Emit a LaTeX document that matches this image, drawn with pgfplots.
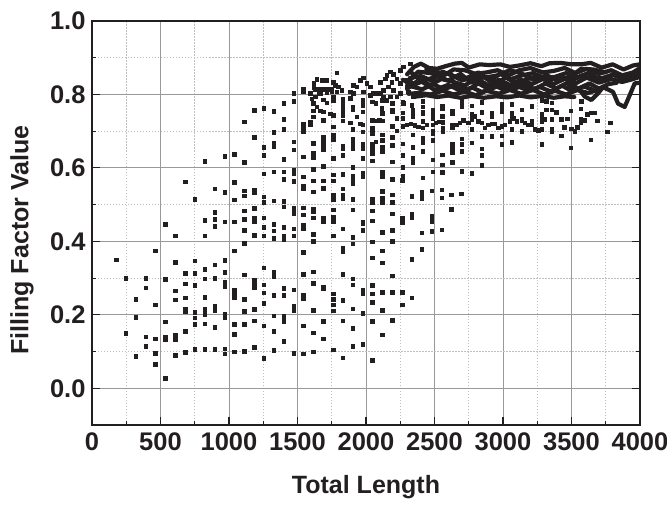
\documentclass[border=0pt]{standalone}
\usepackage{fontspec}
\setmainfont{Liberation Sans}
\usepackage{pgfplots}
\pgfplotsset{compat=1.18}
\definecolor{ink}{HTML}{231F20}
\pgfplotsset{band/.style={no markers,line width=4.2pt,color=ink,line join=round,line cap=round,forget plot}}
\begin{document}
\begin{tikzpicture}
\path[use as bounding box] (-92pt,-79pt) rectangle (575pt,425pt);
\begin{axis}[
 at={(0pt,0pt)},anchor=south west,
 scale only axis,width=548pt,height=404pt,
 xmin=0,xmax=4000,ymin=-0.1,ymax=1.0,
 xtick={0,500,...,4000},ytick={0,0.2,0.4,0.6,0.8,1.0},
 minor x tick num=1,minor y tick num=1,
 grid=both,
 major grid style={color=black!40,line width=0.9pt},
 minor grid style={color=black!25,line width=0.6pt,dash pattern=on 1.5pt off 1.5pt},
 axis line style={color=ink,line width=1.4pt},
 tick align=inside,
 xtick pos=bottom,
 major tick length=8pt,minor tick length=4pt,
 tick style={color=ink,line width=1.1pt},
 tick label style={font=\fontsize{25.5}{28}\selectfont\bfseries,color=ink},
 /pgf/number format/assume math mode=true,
 xticklabel style={yshift=-4pt,/pgf/number format/.cd,fixed,1000 sep={},precision=0},
 yticklabel style={xshift=-3pt,/pgf/number format/.cd,fixed,fixed zerofill,precision=1},
 xlabel={Total Length},ylabel={Filling Factor Value},
 label style={font=\fontsize{25}{27}\selectfont\bfseries,color=ink},
 xlabel style={at={(axis description cs:0.5,0)},anchor=center,yshift=-62pt},
 ylabel style={at={(axis description cs:0,0.458)},anchor=center,yshift=70pt},
]
% dense curves
\addplot[band] coordinates {(2300,.855)(2350,.875)(2400,.884)(2460,.872)(2520,.870)(2590,.878)(2650,.884)(2700,.886)(2750,.873)(2830,.882)(2900,.880)(2980,.882)(3050,.875)(3120,.879)(3200,.885)(3280,.877)(3340,.885)(3420,.886)(3500,.882)(3570,.882)(3640,.886)(3720,.873)(3800,.882)(3880,.868)(3950,.879)(4000,.882)};
\addplot[band] coordinates {(2300,.830)(2380,.862)(2470,.858)(2560,.850)(2640,.868)(2720,.866)(2800,.856)(2880,.860)(2960,.866)(3040,.852)(3120,.866)(3200,.872)(3290,.860)(3370,.864)(3450,.872)(3530,.858)(3610,.870)(3700,.856)(3790,.866)(3870,.852)(3950,.860)(4000,.872)};
\addplot[band] coordinates {(2320,.845)(2400,.850)(2480,.838)(2560,.862)(2650,.848)(2730,.844)(2820,.860)(2900,.838)(2980,.856)(3060,.842)(3140,.852)(3220,.858)(3300,.844)(3380,.848)(3460,.858)(3540,.846)(3620,.858)(3710,.842)(3800,.854)(3880,.842)(3950,.850)(4000,.860)};
\addplot[band] coordinates {(2300,.815)(2380,.838)(2470,.826)(2550,.842)(2640,.834)(2720,.824)(2800,.844)(2890,.826)(2970,.840)(3050,.826)(3130,.840)(3210,.828)(3290,.842)(3370,.828)(3450,.844)(3530,.830)(3610,.846)(3700,.832)(3790,.842)(3870,.834)(3950,.842)(4000,.848)};
\addplot[band] coordinates {(2330,.822)(2410,.814)(2490,.828)(2570,.814)(2650,.826)(2740,.812)(2820,.830)(2900,.814)(2990,.826)(3070,.812)(3150,.828)(3230,.814)(3310,.830)(3390,.816)(3470,.832)(3550,.816)(3630,.830)(3700,.816)(3770,.828)(3830,.832)};
\addplot[band] coordinates {(2310,.802)(2390,.804)(2470,.800)(2560,.810)(2640,.800)(2720,.808)(2800,.798)(2880,.810)(2970,.802)(3050,.812)(3130,.802)(3220,.812)(3300,.800)(3380,.810)(3460,.800)(3540,.812)(3620,.804)(3690,.812)};
\addplot[band] coordinates {(2360,.794)(2440,.798)(2520,.793)(2600,.797)(2690,.791)(2770,.796)(2860,.791)(2950,.795)(3030,.792)(3120,.797)(3200,.792)(3290,.796)(3370,.791)(3450,.795)(3520,.793)};
\addplot[band] coordinates {(3480,.825)(3530,.812)(3560,.812)(3597,.794)(3645,.785)(3694,.803)(3730,.820)(3803,.807)(3840,.775)(3888,.766)(3925,.798)(3961,.830)(3998,.832)};
% further overlapping curves that close the band
\addplot[band] coordinates {(2270,.840)(2340,.825)(2430,.838)(2520,.850)(2600,.838)(2690,.856)(2770,.832)(2860,.848)(2940,.828)(3020,.846)(3100,.830)(3180,.842)(3260,.852)(3340,.838)(3420,.850)(3500,.838)(3580,.852)(3660,.842)(3750,.846)};
\addplot[band] coordinates {(2330,.860)(2420,.832)(2500,.812)(2600,.826)(2680,.812)(2780,.818)(2850,.806)(2930,.826)(3010,.812)(3090,.824)(3180,.812)(3270,.820)(3350,.808)(3430,.824)(3510,.808)(3590,.822)(3660,.812)};
\addplot[band] coordinates {(2440,.868)(2530,.860)(2610,.856)(2700,.838)(2790,.848)(2870,.846)(2960,.852)(3050,.866)(3130,.858)(3220,.840)(3320,.852)(3410,.836)(3500,.850)(3570,.870)(3660,.868)(3750,.860)};
% scatter
\addplot[only marks,mark=square*,mark size=1.75pt,color=ink,mark options={solid,fill=ink,draw=ink}] table[row sep=\\] {
x y\\
175 .350\\ 247 .300\\ 247 .150\\ 319 .243\\ 319 .194\\ 319 .088\\ 391 .300\\ 391 .274\\ 391 .141\\ 391 .114\\
463 .374\\ 463 .227\\ 463 .135\\ 463 .096\\ 463 .065\\ 535 .447\\ 535 .297\\ 535 .181\\ 535 .139\\ 535 .134\\ 535 .028\\
607 .416\\ 607 .343\\ 607 .265\\ 607 .241\\ 607 .144\\ 607 .132\\ 607 .090\\
679 .562\\ 679 .313\\ 679 .285\\ 679 .246\\ 679 .217\\ 679 .208\\ 679 .155\\ 679 .098\\
751 .515\\ 751 .347\\ 751 .313\\ 751 .280\\ 751 .207\\ 751 .192\\ 751 .175\\ 751 .106\\
823 .618\\ 823 .458\\ 823 .415\\ 823 .324\\ 823 .298\\ 823 .248\\ 823 .215\\ 823 .202\\ 823 .176\\ 823 .106\\
895 .544\\ 895 .479\\ 895 .461\\ 895 .441\\ 895 .337\\ 895 .300\\ 895 .225\\ 895 .218\\ 895 .213\\ 895 .166\\ 895 .106\\
967 .632\\ 967 .534\\ 967 .453\\ 967 .349\\ 967 .316\\ 967 .290\\ 967 .278\\ 967 .203\\ 967 .194\\ 967 .108\\ 967 .094\\
1039 .637\\ 1039 .561\\ 1039 .513\\ 1039 .453\\ 1039 .375\\ 1039 .267\\ 1039 .259\\ 1039 .248\\ 1039 .174\\ 1039 .147\\ 1039 .099\\
1111 .726\\ 1111 .615\\ 1111 .538\\ 1111 .525\\ 1111 .483\\ 1111 .461\\ 1111 .430\\ 1111 .395\\ 1111 .309\\ 1111 .243\\ 1111 .210\\ 1111 .175\\ 1111 .101\\
1183 .757\\ 1183 .684\\ 1183 .541\\ 1183 .532\\ 1183 .490\\ 1183 .465\\ 1183 .455\\ 1183 .417\\ 1183 .295\\ 1183 .286\\ 1183 .275\\ 1183 .215\\ 1183 .184\\ 1183 .112\\
1255 .763\\ 1255 .657\\ 1255 .635\\ 1255 .584\\ 1255 .521\\ 1255 .507\\ 1255 .464\\ 1255 .438\\ 1255 .415\\ 1255 .328\\ 1255 .282\\ 1255 .260\\ 1255 .232\\ 1255 .171\\ 1255 .082\\
1327 .755\\ 1327 .697\\ 1327 .669\\ 1327 .658\\ 1327 .590\\ 1327 .511\\ 1327 .447\\ 1327 .429\\ 1327 .408\\ 1327 .318\\ 1327 .305\\ 1327 .253\\ 1327 .197\\ 1327 .156\\ 1327 .103\\
1399 .776\\ 1399 .733\\ 1399 .705\\ 1399 .624\\ 1399 .590\\ 1399 .569\\ 1399 .509\\ 1399 .495\\ 1399 .438\\ 1399 .415\\ 1399 .406\\ 1399 .273\\ 1399 .253\\ 1399 .196\\ 1399 .183\\ 1399 .128\\
1471 .803\\ 1471 .782\\ 1471 .671\\ 1471 .649\\ 1471 .595\\ 1471 .586\\ 1471 .564\\ 1471 .491\\ 1471 .485\\ 1471 .477\\ 1471 .435\\ 1471 .415\\ 1471 .268\\ 1471 .225\\ 1471 .212\\ 1471 .096\\
1543 .816\\ 1543 .809\\ 1543 .719\\ 1543 .710\\ 1543 .700\\ 1543 .630\\ 1543 .576\\ 1543 .550\\ 1543 .544\\ 1543 .492\\ 1543 .473\\ 1543 .444\\ 1543 .435\\ 1543 .370\\ 1543 .311\\ 1543 .253\\ 1543 .245\\ 1543 .171\\ 1543 .094\\
1615 .667\\ 1615 .640\\ 1615 .629\\ 1615 .596\\ 1615 .565\\ 1615 .535\\ 1615 .488\\ 1615 .482\\ 1615 .464\\ 1615 .420\\ 1615 .401\\ 1615 .317\\ 1615 .286\\ 1615 .212\\ 1615 .151\\ 1615 .099\\
1592 .803\\ 1604 .789\\ 1592 .726\\ 1592 .717\\ 1616 .740\\ 1616 .756\\ 1616 .776\\
1687 .730\\ 1687 .685\\ 1687 .678\\ 1687 .672\\ 1687 .663\\ 1687 .651\\ 1687 .604\\ 1687 .565\\ 1687 .545\\ 1687 .465\\ 1687 .459\\ 1687 .453\\ 1687 .277\\ 1687 .271\\ 1687 .182\\ 1687 .135\\
1759 .794\\ 1759 .783\\ 1759 .712\\ 1759 .690\\ 1759 .678\\ 1759 .626\\ 1759 .581\\ 1759 .565\\ 1759 .527\\ 1759 .515\\ 1759 .486\\ 1759 .466\\ 1759 .455\\ 1759 .415\\ 1759 .257\\ 1759 .243\\ 1759 .227\\ 1759 .211\\ 1759 .105\\
1831 .789\\ 1831 .777\\ 1831 .765\\ 1831 .753\\ 1831 .742\\ 1831 .729\\ 1831 .660\\ 1831 .652\\ 1831 .635\\ 1831 .583\\ 1831 .543\\ 1831 .527\\ 1831 .518\\ 1831 .435\\ 1831 .382\\ 1831 .373\\ 1831 .310\\ 1831 .240\\ 1831 .184\\ 1831 .083\\
1903 .767\\ 1903 .758\\ 1903 .706\\ 1903 .678\\ 1903 .664\\ 1903 .652\\ 1903 .602\\ 1903 .577\\ 1903 .565\\ 1903 .557\\ 1903 .515\\ 1903 .486\\ 1903 .412\\ 1903 .393\\ 1903 .299\\ 1903 .282\\ 1903 .216\\ 1903 .163\\ 1903 .114\\
1932 .739\\ 1884 .790\\ 1884 .723\\ 1956 .721\\
1975 .785\\ 1975 .771\\ 1975 .753\\ 1975 .717\\ 1975 .699\\ 1975 .664\\ 1975 .652\\ 1975 .626\\ 1975 .586\\ 1975 .577\\ 1975 .452\\ 1975 .448\\ 1975 .430\\ 1975 .268\\ 1975 .259\\ 1975 .205\\ 1975 .120\\
2047 .780\\ 2047 .730\\ 2047 .708\\ 2047 .694\\ 2047 .664\\ 2047 .652\\ 2047 .640\\ 2047 .620\\ 2047 .515\\ 2047 .505\\ 2047 .483\\ 2047 .456\\ 2047 .399\\ 2047 .355\\ 2047 .281\\ 2047 .258\\ 2047 .235\\ 2047 .183\\ 2047 .076\\
2071 .776\\ 2071 .728\\ 2071 .672\\ 2115 .762\\ 2095 .730\\
2119 .749\\ 2119 .728\\ 2119 .690\\ 2119 .676\\ 2119 .656\\ 2119 .644\\ 2119 .590\\ 2119 .578\\ 2119 .785\\ 2119 .536\\ 2119 .517\\ 2119 .507\\ 2119 .425\\ 2119 .375\\ 2119 .342\\ 2119 .262\\ 2119 .212\\ 2119 .146\\
2191 .776\\ 2191 .758\\ 2191 .753\\ 2191 .714\\ 2191 .683\\ 2191 .662\\ 2191 .617\\ 2191 .569\\ 2191 .527\\ 2191 .506\\ 2191 .476\\ 2191 .431\\ 2191 .400\\ 2191 .306\\ 2191 .262\\ 2191 .185\\
2224 .735\\ 2224 .701\\
2263 .566\\ 2263 .464\\ 2263 .457\\ 2263 .451\\ 2263 .262\\ 2263 .227\\
2335 .523\\ 2335 .476\\ 2335 .471\\ 2335 .465\\ 2335 .352\\ 2335 .246\\
2407 .534\\ 2407 .527\\ 2407 .518\\ 2407 .424\\ 2407 .379\\
2479 .538\\ 2479 .468\\ 2479 .455\\ 2479 .427\\
2551 .540\\ 2551 .519\\ 2551 .432\\ 2623 .527\\ 2623 .487\\ 2695 .530\\
1619 .830\\ 1619 .819\\ 1640 .842\\ 1628 .814\\ 1653 .805\\ 1677 .839\\ 1709 .839\\ 1665 .814\\ 1694 .814\\ 1726 .814\\ 1750 .816\\ 1774 .825\\ 1762 .833\\ 1798 .821\\ 1823 .812\\ 1665 .803\\ 1713 .805\\ 1750 .807\\ 1786 .807\\ 1628 .794\\ 1689 .786\\ 1713 .777\\ 1640 .767\\ 1665 .756\\ 1689 .753\\ 1738 .748\\ 1762 .744\\ 1786 .859\\
1884 .807\\ 1908 .803\\ 1932 .821\\ 1956 .839\\ 1981 .846\\ 2005 .830\\ 2029 .821\\ 1908 .825\\ 1981 .807\\ 2029 .798\\ 2054 .803\\ 2078 .803\\ 2102 .834\\ 2151 .852\\ 2175 .862\\ 2199 .855\\ 2139 .843\\ 2102 .803\\ 2126 .812\\ 2163 .821\\ 2187 .834\\ 2224 .843\\ 2248 .866\\ 2272 .875\\ 2321 .884\\ 2248 .830\\ 2199 .812\\ 2248 .803\\ 2224 .794\\ 2175 .794\\ 2126 .794\\ 2297 .821\\ 2345 .830\\ 2297 .839\\ 2345 .853\\ 2309 .807\\ 2345 .794\\ 2272 .776\\ 2333 .771\\ 2151 .785\\
2267 .714\\ 2297 .717\\ 2326 .720\\ 2357 .716\\ 2382 .712\\ 2413 .709\\ 2413 .727\\ 2442 .718\\ 2486 .718\\ 2510 .723\\ 2535 .726\\ 2559 .725\\ 2559 .709\\ 2559 .700\\ 2630 .718\\ 2630 .709\\ 2661 .718\\ 2685 .723\\ 2710 .730\\ 2746 .723\\ 2770 .732\\ 2795 .741\\ 2819 .727\\ 2846 .723\\ 2868 .709\\ 2892 .718\\ 2916 .721\\ 2941 .721\\ 2965 .709\\ 2989 .714\\ 3013 .718\\ 3050 .727\\ 3074 .736\\ 3099 .727\\ 3135 .730\\ 3159 .723\\ 3184 .718\\ 3208 .718\\ 3232 .705\\ 3256 .703\\ 3281 .705\\ 3354 .705\\ 3354 .698\\ 3446 .711\\ 3499 .707\\ 3524 .700\\ 3543 .711\\ 3640 .677\\ 3760 .698\\ 3784 .723\\ 3689 .729\\ 3424 .688\\ 3281 .664\\ 3495 .655\\
2340 .691\\ 2267 .666\\ 2340 .657\\ 2413 .682\\ 2413 .675\\ 2413 .670\\ 2486 .700\\ 2486 .693\\ 2486 .675\\ 2413 .645\\ 2267 .634\\ 2340 .627\\ 2340 .614\\ 2486 .623\\ 2557 .636\\ 2557 .609\\ 2267 .602\\ 2486 .590\\ 2557 .589\\ 2630 .664\\ 2630 .653\\ 2630 .641\\ 2630 .616\\ 2700 .679\\ 2700 .664\\ 2700 .645\\ 2773 .706\\ 2773 .668\\ 2846 .686\\ 2846 .652\\ 2846 .634\\ 2846 .607\\ 2919 .686\\ 2989 .688\\ 2989 .665\\ 3062 .706\\ 3062 .670\\ 3135 .700\\ 2700 .591\\ 2773 .586\\ 2413 .574\\ 2267 .579\\ 2267 .573\\ 2267 .566\\
2267 .779\\ 2267 .750\\ 2267 .736\\ 2340 .759\\ 2340 .748\\ 2340 .739\\ 2413 .782\\ 2413 .766\\ 2413 .752\\ 2413 .748\\ 2486 .759\\ 2486 .746\\ 2486 .734\\ 2557 .768\\ 2557 .761\\ 2557 .741\\ 2630 .755\\ 2630 .748\\ 2700 .782\\ 2700 .768\\ 2773 .770\\ 2773 .746\\ 2846 .779\\ 2846 .752\\ 2919 .750\\ 2919 .739\\ 2989 .773\\ 2989 .764\\ 2989 .755\\ 3062 .773\\ 3062 .750\\ 3062 .741\\ 3135 .759\\ 3135 .732\\ 3208 .768\\ 3208 .727\\ 3281 .746\\ 3281 .736\\ 3281 .727\\ 3305 .732\\ 3354 .777\\ 3354 .759\\ 3354 .732\\ 3317 .759\\ 3390 .752\\ 3424 .732\\ 3470 .734\\ 3495 .756\\ 3568 .761\\ 3568 .732\\ 3568 .725\\ 3592 .730\\ 3616 .746\\ 3640 .750\\ 3665 .750\\ 3281 .785\\ 3317 .782\\ 3572 .782\\
};
\end{axis}
\end{tikzpicture}
\end{document}
